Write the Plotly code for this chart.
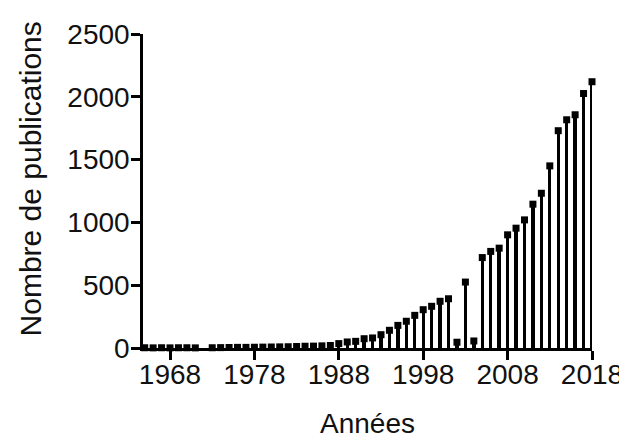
import plotly.graph_objects as go

years = list(range(1965, 2019))
publications = [
    2, 1, 2, 1, 2, 2, 1, None,                   # 1965-1972
    2, 3, 4, 5, 5, 6, 7, 8, 9, 10, 12, 14, 15,   # 1973-1985
    17, 20, 35, 48, 53, 74, 80, 106, 141, 180,   # 1986-1995
    213, 260, 305, 332, 372, 392, 46, 525, 56,   # 1996-2004
    720, 769, 795, 901, 954, 1020, 1145, 1232,   # 2005-2012
    1450, 1730, 1817, 1857, 2026, 2120,          # 2013-2018
]
x_ticks = [1968, 1978, 1988, 1998, 2008, 2018]
y_ticks = [0, 500, 1000, 1500, 2000, 2500]
x_title = "Années"
y_title = "Nombre de publications"

xs = [y for y, v in zip(years, publications) if v is not None]
vs = [v for v in publications if v is not None]

FONT = "Liberation Sans, Arial, sans-serif"
INK = "#111111"

fig = go.Figure()
fig.add_trace(go.Bar(x=xs, y=vs, width=0.4, marker=dict(color="black", line=dict(width=0)),
                     showlegend=False, hoverinfo="skip"))
fig.add_trace(go.Scatter(x=xs, y=vs, mode="markers",
                         marker=dict(symbol="square", size=7, color="black"),
                         cliponaxis=False, showlegend=False))

# page body has an 8px margin offset
fig.update_layout(
    width=619, height=431,
    margin=dict(l=135, r=35, t=26, b=91),
    paper_bgcolor="white", plot_bgcolor="white",
    font=dict(family=FONT, color=INK, size=28),
    bargap=0,
    annotations=[dict(
        text=y_title, textangle=-90, xref="paper", yref="paper",
        x=-0.2517, y=0.54, xanchor="center", yanchor="middle",
        showarrow=False, font=dict(size=30, color=INK, family=FONT),
    )],
)
fig.update_xaxes(
    range=[1964.8, 2018], tickvals=x_ticks, ticks="outside", ticklen=9, tickwidth=2.5,
    tickcolor="black", showline=True, linecolor="black", linewidth=2.5, showgrid=False,
    zeroline=False, tickfont=dict(size=28), automargin=False, ticklabelstandoff=-9,
    ticklabeloverflow="allow",
    title=dict(text=x_title, font=dict(size=28), standoff=28),
)
fig.update_yaxes(
    range=[0, 2500], tickvals=y_ticks, ticks="outside", ticklen=9, tickwidth=2.5,
    tickcolor="black", showline=True, linecolor="black", linewidth=2.5, showgrid=False,
    zeroline=False, tickfont=dict(size=28), automargin=False, ticklabelstandoff=-4,
    ticklabeloverflow="allow",
)

fig.write_html("out.html")
